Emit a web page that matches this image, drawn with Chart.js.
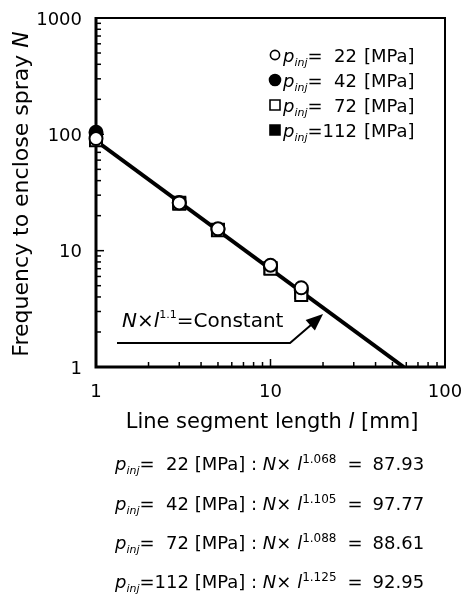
<!DOCTYPE html>
<html><head><meta charset="utf-8">
<script src="https://cdn.jsdelivr.net/npm/chart.js@4.4.1/dist/chart.umd.min.js"></script>
<style>
html,body{margin:0;padding:0;background:#fff;}
#wrap{position:relative;width:464px;height:600px;overflow:hidden;}
canvas{position:absolute;left:0;top:0;}
.eq{position:absolute;left:115px;font-family:'DejaVu Sans';font-size:18px;color:#000;white-space:pre;line-height:20px;}
.eq i{font-style:italic;}
.eq sub{font-size:11px;font-style:italic;vertical-align:-4px;line-height:0;}
.eq sup{font-size:12px;vertical-align:7px;line-height:0;}
.eq .eqs{margin:0 10px 0 11px;}
</style></head><body>
<div id="wrap"><canvas id="c" width="464" height="600"></canvas><div id="eqs"></div></div>
<script>
// ---- data ----
const lengths = [1, 3, 5, 10, 15];
const n22  = [92, 25.7, 15.4, 7.5, 4.8];
const n42  = [104, 26.0, 15.2, 7.3, 4.6];
const n72  = [89, 25.3, 15.0, 7.0, 4.15];
const n112 = [95, 25.8, 15.1, 7.1, 4.4];
const fitL = [1, 58];
const fitN = [88, 1];
const xTickValues = [1, 10, 100];
const xTickLabels = ['1', '10', '100'];
const yTickValues = [1, 10, 100, 1000];
const yTickLabels = ['1', '10', '100', '1000'];
const pressures = ['22', '42', '72', '112'];
const exponents = ['1.068', '1.105', '1.088', '1.125'];
const constants = ['87.93', '97.77', '88.61', '92.95'];
const fitExponent = '1.1';
const annotL = 20, annotN = 2.85;

// ---- styles ----
const FAM = "'DejaVu Sans'";
const INK = '#000';
function fnt(size, italic){ return (italic ? 'italic ' : '') + size + 'px ' + FAM; }
const seriesData = [n22, n42, n72, n112];
const seriesStyles = [
  {shape:'circle', filled:false, order:1},
  {shape:'circle', filled:true,  order:3},
  {shape:'rect',   filled:false, order:2},
  {shape:'rect',   filled:true,  order:4}
];

function runsWidth(ctx, runs){ let w = 0; for (const r of runs){ ctx.font = r.font; w += ctx.measureText(r.t).width; } return w; }
function drawRuns(ctx, runs, x, y){ let cx = x; for (const r of runs){ ctx.font = r.font; ctx.fillText(r.t, cx, y + (r.dy || 0)); cx += ctx.measureText(r.t).width; } return cx; }
function legendMarker(ctx, st, x, y){
  ctx.save(); ctx.lineWidth = 1.6; ctx.strokeStyle = INK; ctx.fillStyle = st.filled ? INK : '#fff';
  ctx.beginPath();
  if (st.shape === 'circle') ctx.arc(x, y, st.filled ? 5.5 : 4.6, 0, Math.PI * 2);
  else ctx.rect(x - 5, y - 5, 10, 10);
  ctx.fill(); ctx.stroke(); ctx.restore();
}

const decor = {
  id: 'decor',
  beforeDatasetsDraw(chart){
    const ctx = chart.ctx, a = chart.chartArea, xs = chart.scales.x, ys = chart.scales.y;
    ctx.save();
    ctx.strokeStyle = INK;
    ctx.lineWidth = 2;
    ctx.beginPath(); ctx.moveTo(a.left, a.top); ctx.lineTo(a.right, a.top); ctx.lineTo(a.right, a.bottom); ctx.stroke();
    ctx.lineWidth = 3;
    ctx.beginPath(); ctx.moveTo(a.left, a.top - 1); ctx.lineTo(a.left, a.bottom); ctx.lineTo(a.right + 1, a.bottom); ctx.stroke();
    ctx.lineWidth = 1.5;
    for (const d of [1, 10, 100]) {
      for (let k = 2; k <= 10; k++) {
        const v = k * d; if (v >= 1000) continue;
        const py = ys.getPixelForValue(v), len = (k === 10) ? 8 : 5;
        ctx.beginPath(); ctx.moveTo(a.left, py); ctx.lineTo(a.left + len, py); ctx.stroke();
      }
    }
    for (const d of [1, 10]) {
      for (let k = 2; k <= 10; k++) {
        const v = k * d; if (v >= 100) continue;
        const px = xs.getPixelForValue(v), len = (k === 10) ? 8 : 5;
        ctx.beginPath(); ctx.moveTo(px, a.bottom); ctx.lineTo(px, a.bottom - len); ctx.stroke();
      }
    }
    ctx.restore();
  },
  afterDraw(chart){
    const ctx = chart.ctx, a = chart.chartArea, xs = chart.scales.x, ys = chart.scales.y;
    ctx.save();
    ctx.fillStyle = INK; ctx.strokeStyle = INK; ctx.textBaseline = 'alphabetic';
    // legend
    seriesStyles.forEach((st, i) => {
      const y = a.top + 37 + i * 25;
      legendMarker(ctx, st, 275, y);
      ctx.textAlign = 'left';
      const cx = drawRuns(ctx, [
        {t:'p', font:fnt(18, true)},
        {t:'inj', font:fnt(11, true), dy:4},
        {t:'=', font:fnt(18)}
      ], 283, y + 6.5);
      ctx.font = fnt(18);
      const numRight = cx + ctx.measureText('000').width;
      ctx.textAlign = 'right';
      ctx.fillText(pressures[i], numRight, y + 6.5);
      ctx.textAlign = 'left';
      ctx.fillText('[MPa]', numRight + 7, y + 6.5);
    });
    // annotation
    const tx = xs.getPixelForValue(annotL), ty = ys.getPixelForValue(annotN);
    const uy = a.bottom - 24, ux = tx - 33;
    ctx.lineWidth = 2;
    ctx.beginPath(); ctx.moveTo(a.left + 21, uy); ctx.lineTo(ux, uy); ctx.lineTo(tx - 8, ty + 7.5); ctx.stroke();
    const ang = Math.atan2(ty - uy, tx - ux), L = 17, W = 7;
    ctx.beginPath();
    ctx.moveTo(tx, ty);
    ctx.lineTo(tx - L * Math.cos(ang) + W * Math.sin(ang), ty - L * Math.sin(ang) - W * Math.cos(ang));
    ctx.lineTo(tx - L * Math.cos(ang) - W * Math.sin(ang), ty - L * Math.sin(ang) + W * Math.cos(ang));
    ctx.closePath(); ctx.fill();
    ctx.textAlign = 'left';
    drawRuns(ctx, [
      {t:'N', font:fnt(20, true)},
      {t:'×', font:fnt(20)},
      {t:'l', font:fnt(20, true)},
      {t:fitExponent, font:fnt(11), dy:-9},
      {t:'=Constant', font:fnt(20)}
    ], a.left + 26, a.bottom - 40);
    // x title
    const xr = [
      {t:'Line segment length ', font:fnt(21)},
      {t:'l', font:fnt(21, true)},
      {t:' [mm]', font:fnt(21)}
    ];
    drawRuns(ctx, xr, 272 - runsWidth(ctx, xr) / 2, 428);
    // y title
    const yr = [
      {t:'Frequency to enclose spray ', font:fnt(22)},
      {t:'N', font:fnt(22, true)}
    ];
    ctx.translate(0, 194); ctx.rotate(-Math.PI / 2);
    drawRuns(ctx, yr, -runsWidth(ctx, yr) / 2, 28);
    ctx.restore();
  }
};

const datasets = seriesData.map((arr, i) => {
  const st = seriesStyles[i];
  return {
    label: 'p_inj=' + pressures[i] + ' [MPa]',
    data: lengths.map((l, j) => ({x: l, y: arr[j]})),
    pointStyle: st.shape,
    pointRadius: st.shape === 'circle' ? 6.5 : 8.5,
    pointBorderWidth: 2,
    pointBackgroundColor: st.filled ? INK : '#fff',
    pointBorderColor: INK,
    backgroundColor: st.filled ? INK : '#fff',
    borderColor: INK,
    showLine: false,
    order: st.order,
    clip: false
  };
});
datasets.push({
  label: 'fit',
  data: fitL.map((l, j) => ({x: l, y: fitN[j]})),
  showLine: true, borderColor: INK, borderWidth: 4, pointRadius: 0, order: 10
});

const tickFont = {family: 'DejaVu Sans', size: 18};
new Chart(document.getElementById('c'), {
  type: 'scatter',
  data: {datasets},
  options: {
    responsive: false, animation: false, events: [],
    layout: {padding: {top: 18, right: 19, left: 0, bottom: 0}},
    plugins: {legend: {display: false}, tooltip: {enabled: false}},
    scales: {
      x: {
        type: 'logarithmic', min: 1, max: 100, position: 'bottom',
        afterBuildTicks: s => { s.ticks = xTickValues.map(v => ({value: v})); },
        afterFit: s => { s.height = 233; s.paddingLeft = 0; s.paddingRight = 0; },
        grid: {drawOnChartArea: false, drawTicks: false},
        border: {display: false},
        ticks: {autoSkip: false, maxRotation: 0, padding: 15, color: INK, font: tickFont,
                callback: (v, i) => xTickLabels[i]}
      },
      y: {
        type: 'logarithmic', min: 1, max: 1000, position: 'left',
        afterBuildTicks: s => { s.ticks = yTickValues.map(v => ({value: v})); },
        afterFit: s => { s.width = 96; s.paddingTop = 0; s.paddingBottom = 0; },
        grid: {drawOnChartArea: false, drawTicks: false},
        border: {display: false},
        ticks: {autoSkip: false, padding: 14, labelOffset: 2, color: INK, font: tickFont,
                callback: (v, i) => yTickLabels[i]}
      }
    }
  },
  plugins: [decor]
});

// equations under the chart
const rowCenters = [465, 505, 544, 583];
const eqs = document.getElementById('eqs');
pressures.forEach((p, i) => {
  const d = document.createElement('div');
  d.className = 'eq';
  d.style.top = (rowCenters[i] - 11) + 'px';
  const pad = p.length < 3 ? '  ' : '';
  d.innerHTML = '<i>p</i><sub>inj</sub>=' + pad + p + ' [MPa] : <i>N</i>× <i>l</i><sup>' + exponents[i] +
    '</sup><span class="eqs">=</span>' + constants[i];
  eqs.appendChild(d);
});
</script>
</body></html>
